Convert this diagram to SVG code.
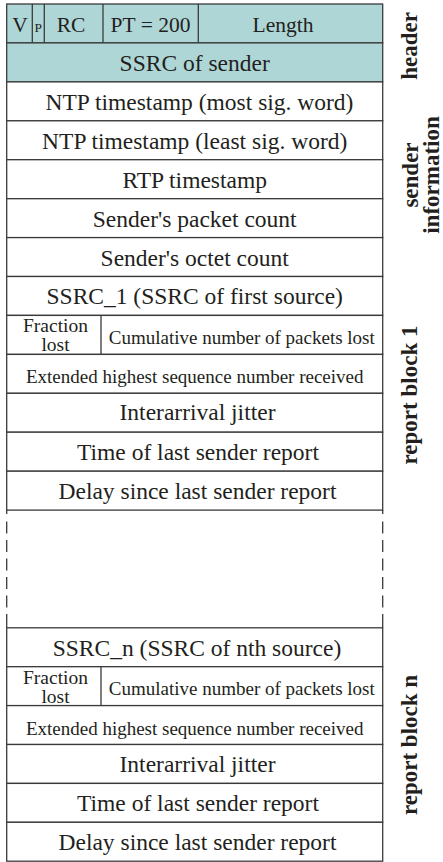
<svg xmlns="http://www.w3.org/2000/svg" width="443" height="862" viewBox="0 0 443 862">
<style>
.cell{fill:#ffffff;stroke:#3a3a3a;stroke-width:1.3}
.hdr{fill:#afd6d6;stroke:#3a3a3a;stroke-width:1.3}
.ln{stroke:#3a3a3a;stroke-width:1.3;fill:none}
.t{font-family:"Liberation Serif","Times New Roman",serif;font-size:23.5px;fill:#231f20;text-anchor:middle}
.th{font-family:"Liberation Serif","Times New Roman",serif;font-size:21.5px;fill:#231f20;text-anchor:middle}
.ts{font-family:"Liberation Serif","Times New Roman",serif;font-size:19px;fill:#231f20;text-anchor:middle}
.tf{font-family:"Liberation Serif","Times New Roman",serif;font-size:19.5px;fill:#231f20;text-anchor:middle}
.lbl{font-family:"Liberation Serif","Times New Roman",serif;font-size:23px;font-weight:bold;fill:#231f20;text-anchor:middle}
</style>
<rect width="443" height="862" fill="#ffffff"/>

<g id="header-row">
<rect class="hdr" x="6.7" y="4" width="376" height="38.9"/>
<line class="ln" x1="32.3" y1="4" x2="32.3" y2="42.9"/>
<line class="ln" x1="44.3" y1="4" x2="44.3" y2="42.9"/>
<line class="ln" x1="103" y1="4" x2="103" y2="42.9"/>
<line class="ln" x1="198.3" y1="4" x2="198.3" y2="42.9"/>
<text class="th" x="20" y="31.5">V</text>
<text class="th" x="38.3" y="31.5" style="font-size:13.5px">P</text>
<text class="th" x="71" y="31.5">RC</text>
<text class="th" x="150.5" y="31.5">PT = 200</text>
<text class="th" x="283" y="31.5">Length</text>
</g>
<g id="ssrc-sender">
<rect class="hdr" x="6.7" y="42.9" width="376" height="39"/>
<text class="t" x="194.7" y="70.5">SSRC of sender</text>
</g>
<g id="ntp-msw">
<rect class="cell" x="6.7" y="81.9" width="376" height="38.9"/>
<text class="t" x="199.5" y="109.5">NTP timestamp (most sig. word)</text>
</g>
<g id="ntp-lsw">
<rect class="cell" x="6.7" y="120.8" width="376" height="38.9"/>
<text class="t" x="194.7" y="148.5">NTP timestamp (least sig. word)</text>
</g>
<g id="rtp-ts">
<rect class="cell" x="6.7" y="159.7" width="376" height="39"/>
<text class="t" x="194.7" y="187.5">RTP timestamp</text>
</g>
<g id="pkt-count">
<rect class="cell" x="6.7" y="198.7" width="376" height="38.9"/>
<text class="t" x="194.7" y="226.5">Sender's packet count</text>
</g>
<g id="oct-count">
<rect class="cell" x="6.7" y="237.6" width="376" height="38.9"/>
<text class="t" x="194.7" y="265.5">Sender's octet count</text>
</g>

<g id="ssrc-1">
<rect class="cell" x="6.7" y="276.5" width="376" height="38.9"/>
<text class="t" x="194.7" y="304">SSRC_1 (SSRC of first source)</text>
</g>
<g id="lost-1">
<rect class="cell" x="6.7" y="315.4" width="376" height="39"/>
<line class="ln" x1="101" y1="315.4" x2="101" y2="354.4"/>
<text class="tf" x="55.5" y="332">Fraction</text>
<text class="tf" x="55.5" y="351">lost</text>
<text class="ts" x="241.8" y="343.5">Cumulative number of packets lost</text>
</g>
<g id="ext-1">
<rect class="cell" x="6.7" y="354.4" width="376" height="38.9"/>
<text class="ts" x="194.7" y="383">Extended highest sequence number received</text>
</g>
<g id="jitter-1">
<rect class="cell" x="6.7" y="393.3" width="376" height="38.9"/>
<text class="t" x="197.5" y="420">Interarrival jitter</text>
</g>
<g id="lsr-1">
<rect class="cell" x="6.7" y="432.2" width="376" height="39"/>
<text class="t" x="198" y="459.5">Time of last sender report</text>
</g>
<g id="dlsr-1">
<rect class="cell" x="6.7" y="471.2" width="376" height="38.9"/>
<text class="t" x="197.5" y="498.5">Delay since last sender report</text>
</g>

<g id="connectors">
<line class="ln" x1="6.7" y1="510.1" x2="6.7" y2="627.8" stroke-dasharray="4 7.5 12 6.5 12 6.5 12 6.5 12 6.5 12 6.5 14 0"/>
<line class="ln" x1="382.7" y1="510.1" x2="382.7" y2="627.8" stroke-dasharray="4 7.5 12 6.5 12 6.5 12 6.5 12 6.5 12 6.5 14 0"/>
</g>

<g id="ssrc-n">
<rect class="cell" x="6.7" y="627.8" width="376" height="38.9"/>
<text class="t" x="197" y="655.5">SSRC_n (SSRC of nth source)</text>
</g>
<g id="lost-n">
<rect class="cell" x="6.7" y="666.7" width="376" height="38.9"/>
<line class="ln" x1="101" y1="666.7" x2="101" y2="705.6"/>
<text class="tf" x="55.5" y="683.5">Fraction</text>
<text class="tf" x="55.5" y="702.5">lost</text>
<text class="ts" x="241.8" y="695">Cumulative number of packets lost</text>
</g>
<g id="ext-n">
<rect class="cell" x="6.7" y="705.6" width="376" height="38.9"/>
<text class="ts" x="194.7" y="734.5">Extended highest sequence number received</text>
</g>
<g id="jitter-n">
<rect class="cell" x="6.7" y="744.5" width="376" height="38.9"/>
<text class="t" x="197.5" y="771.5">Interarrival jitter</text>
</g>
<g id="lsr-n">
<rect class="cell" x="6.7" y="783.4" width="376" height="38.9"/>
<text class="t" x="198" y="810.5">Time of last sender report</text>
</g>
<g id="dlsr-n">
<rect class="cell" x="6.7" y="822.3" width="376" height="38.9"/>
<text class="t" x="197.5" y="849.5">Delay since last sender report</text>
</g>

<g id="label-header">
<text class="lbl" transform="translate(417,46) rotate(-90)">header</text>
</g>
<g id="label-sender-info">
<text class="lbl" transform="translate(418,175) rotate(-90)">sender</text>
<text class="lbl" transform="translate(438.5,175) rotate(-90)">information</text>
</g>
<g id="label-block-1">
<text class="lbl" transform="translate(417,395) rotate(-90)">report block 1</text>
</g>
<g id="label-block-n">
<text class="lbl" transform="translate(417,745) rotate(-90)">report block n</text>
</g>
</svg>
